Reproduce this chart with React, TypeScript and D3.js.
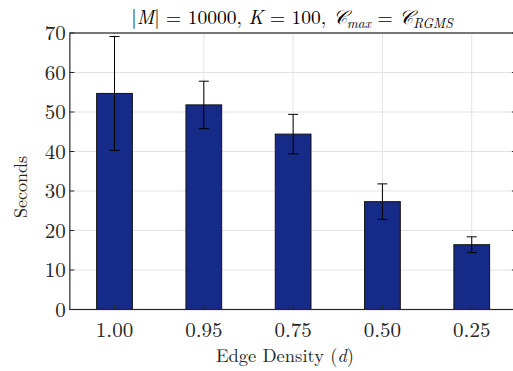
import React from "react";
import * as d3 from "d3";

const categories = ["1.00", "0.95", "0.75", "0.50", "0.25"];
const meanSeconds = [54.7, 51.8, 44.4, 27.3, 16.4];
const errSeconds = [14.4, 6.0, 5.0, 4.5, 2.0];
const yTicks = [0, 10, 20, 30, 40, 50, 60, 70];

const W = 513;
const H = 371;
const M = { left: 69.85, top: 33, right: 516.4, bottom: 309.5 };
const FONT = "'Latin Modern Roman', 'CMU Serif', 'Liberation Serif', serif";
const AXIS = "#262626";
const GRID = "#e3e3e3";
const BAR = "#162a87";

export default function App() {
  const x = d3
    .scaleLinear()
    .domain([0.5, categories.length + 0.5])
    .range([M.left, M.right]);
  const y = d3.scaleLinear().domain([0, 70]).range([M.bottom, M.top]);
  const barW = (x(1) - x(0)) * 0.4;
  const tickLen = 4.5;

  return (
    <svg
      width={W}
      height={H}
      style={{ position: "absolute", left: 0, top: 0, display: "block" }}
      fontFamily={FONT}
    >
      <rect width={W} height={H} fill="#fff" />
      {/* grid */}
      {yTicks.map((t) => (
        <line key={"gy" + t} x1={M.left} x2={M.right} y1={y(t)} y2={y(t)} stroke={GRID} strokeWidth={1} />
      ))}
      {categories.map((c, i) => (
        <line key={"gx" + c} x1={x(i + 1)} x2={x(i + 1)} y1={M.top} y2={M.bottom} stroke={GRID} strokeWidth={1} />
      ))}
      {/* bars */}
      {meanSeconds.map((v, i) => (
        <rect
          key={"b" + i}
          x={x(i + 1) - barW / 2}
          y={y(v)}
          width={barW}
          height={y(0) - y(v)}
          fill={BAR}
          stroke="#111"
          strokeWidth={1}
        />
      ))}
      {/* error bars */}
      {meanSeconds.map((v, i) => {
        const cx = x(i + 1);
        const hi = y(v + errSeconds[i]);
        const lo = y(v - errSeconds[i]);
        return (
          <g key={"e" + i} stroke="#000" strokeWidth={1}>
            <line x1={cx} x2={cx} y1={hi} y2={lo} />
            <line x1={cx - 5} x2={cx + 5} y1={hi} y2={hi} />
            <line x1={cx - 5} x2={cx + 5} y1={lo} y2={lo} />
          </g>
        );
      })}
      {/* ticks */}
      {yTicks.map((t) => (
        <g key={"ty" + t} stroke={AXIS} strokeWidth={1}>
          <line x1={M.left} x2={M.left + tickLen} y1={y(t)} y2={y(t)} />
          <line x1={M.right} x2={M.right - tickLen} y1={y(t)} y2={y(t)} />
        </g>
      ))}
      {categories.map((c, i) => (
        <g key={"tx" + c} stroke={AXIS} strokeWidth={1}>
          <line x1={x(i + 1)} x2={x(i + 1)} y1={M.bottom} y2={M.bottom - tickLen} />
        </g>
      ))}
      {/* box */}
      <rect
        x={M.left}
        y={M.top}
        width={M.right - M.left}
        height={M.bottom - M.top}
        fill="none"
        stroke={AXIS}
        strokeWidth={1.2}
      />
      {/* tick labels */}
      {yTicks.map((t) => (
        <text key={"ly" + t} x={M.left - 4} y={y(t)} dy="0.35em" textAnchor="end" fontSize={21} fill={AXIS}>
          {t}
        </text>
      ))}
      {categories.map((c, i) => (
        <text key={"lx" + c} x={x(i + 1)} y={337} textAnchor="middle" fontSize={21} fill={AXIS}>
          {c}
        </text>
      ))}
      {/* axis labels */}
      <text x={285} y={362} textAnchor="middle" fontSize={18.5} fill={AXIS}>
        Edge Density (<tspan fontStyle="italic">d</tspan>)
      </text>
      <text transform="translate(27,187) rotate(-90)" textAnchor="middle" fontSize={18} fill={AXIS}>
        Seconds
      </text>
      {/* title */}
      <text x={292} y={24} textAnchor="middle" fontSize={19.5} fill="#000">
        |<tspan fontStyle="italic">M</tspan>| = 10000, <tspan fontStyle="italic">K</tspan> = 100,{" "}
        <tspan fontStyle="italic">𝒞</tspan>
        <tspan fontStyle="italic" fontSize={13.5} dy={4}>max</tspan>
        <tspan dy={-4}> = </tspan>
        <tspan fontStyle="italic">𝒞</tspan>
        <tspan fontStyle="italic" fontSize={13.5} dy={4}>RGMS</tspan>
      </text>
    </svg>
  );
}
